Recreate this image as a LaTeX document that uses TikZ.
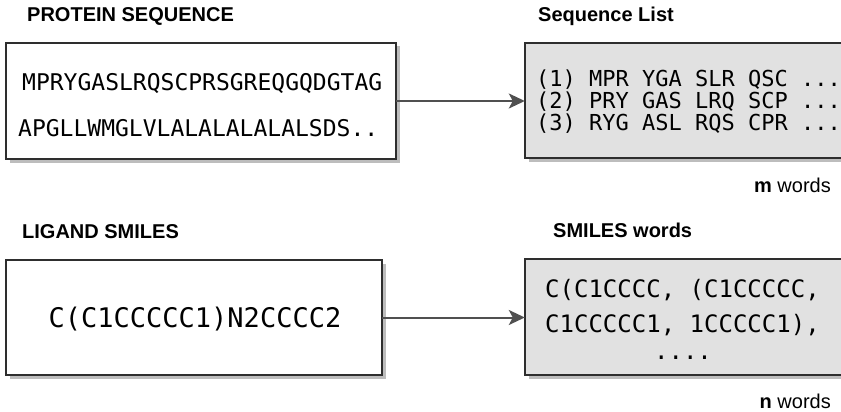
\documentclass[tikz,border=0pt]{standalone}
\usepackage{fontspec}
\setmainfont{Liberation Sans}
\newfontfamily\monof{DejaVu Sans Mono}
\newfontfamily\labf{Liberation Sans}
\usetikzlibrary{arrows.meta}
\definecolor{boxfill}{HTML}{E1E1E1}
\definecolor{shadowc}{HTML}{BDBDBD}
\definecolor{edgec}{HTML}{2E2E2E}
\definecolor{arrowc}{HTML}{505050}
\tikzset{
  panel/.style={draw=edgec, line width=1.4pt,
    preaction={fill=shadowc, transform canvas={xshift=3.5pt,yshift=-3.5pt}}},
  seqtxt/.style={font=\monof\fontsize{22}{22}\selectfont, inner sep=0pt, anchor=base west},
  title/.style={font=\labf\bfseries\fontsize{20}{24}\selectfont, inner sep=0pt, anchor=base west},
  count/.style={font=\labf\fontsize{20}{24}\selectfont, inner sep=0pt, anchor=base east},
  flow/.style={draw=arrowc, line width=2pt, -{Stealth[length=16pt,width=15pt,inset=4pt]}}
}
\begin{document}
\begin{tikzpicture}[x=1pt,y=-1pt]
\clip (0,0) rectangle (841,412);
\useasboundingbox (0,0) rectangle (841,412);
% boxes
\path[panel, fill=white] (6,43) rectangle (396,159);
\node[inner sep=0pt, minimum width=390pt, minimum height=116pt] (prot) at (201,101) {};
\path[panel, fill=boxfill] (525,43) rectangle (860,158);
\node[inner sep=0pt, minimum width=335pt, minimum height=115pt] (seql) at (692.5,100.5) {};
\path[panel, fill=white] (6,260) rectangle (382,375);
\node[inner sep=0pt, minimum width=376pt, minimum height=115pt] (lig) at (194,317.5) {};
\path[panel, fill=boxfill] (525,259) rectangle (860,375);
\node[inner sep=0pt, minimum width=335pt, minimum height=116pt] (smw) at (692.5,317) {};
% titles
\node[title] (t1) at (27,22) {PROTEIN SEQUENCE};
\node[title] (t2) at (538,22) {Sequence List};
\node[title] (t3) at (22,238) {LIGAND SMILES};
\node[title] (t4) at (553,237) {SMILES words};
\node[count] (c1) at (831,192) {\textbf{m} words};
\node[count] (c2) at (831,408) {\textbf{n} words};
% texts
\node[seqtxt, font=\monof\fontsize{23}{22}\selectfont] (p1) at (22,90) {MPRYGASLRQSCPRSGREQGQDGTAG};
\node[seqtxt, font=\monof\fontsize{23}{22}\selectfont] (p2) at (18,136) {APGLLWMGLVLALALALALALSDS..};
\node[seqtxt] (s1) at (536,86) {(1) MPR YGA SLR QSC ...};
\node[seqtxt] (s2) at (536,108) {(2) PRY GAS LRQ SCP ...};
\node[seqtxt] (s3) at (536,130) {(3) RYG ASL RQS CPR ...};
\node[font=\monof\fontsize{27}{30}\selectfont, inner sep=0pt, anchor=base] (l1) at (195,327) {C(C1CCCCC1)N2CCCC2};
\node[font=\monof\fontsize{24}{30}\selectfont, inner sep=0pt, anchor=base west] (w1) at (545,297) {C(C1CCCC, (C1CCCCC,};
\node[font=\monof\fontsize{24}{30}\selectfont, inner sep=0pt, anchor=base west] (w2) at (545,332) {C1CCCCC1, 1CCCCC1),};
\node[font=\monof\fontsize{24}{30}\selectfont, inner sep=0pt, anchor=base] (w3) at (683,359) {....};
% arrows
\draw[flow] (prot.east) -- (prot.east -| seql.west);
\draw[flow] (lig.east) -- (lig.east -| smw.west);
\end{tikzpicture}
\end{document}
